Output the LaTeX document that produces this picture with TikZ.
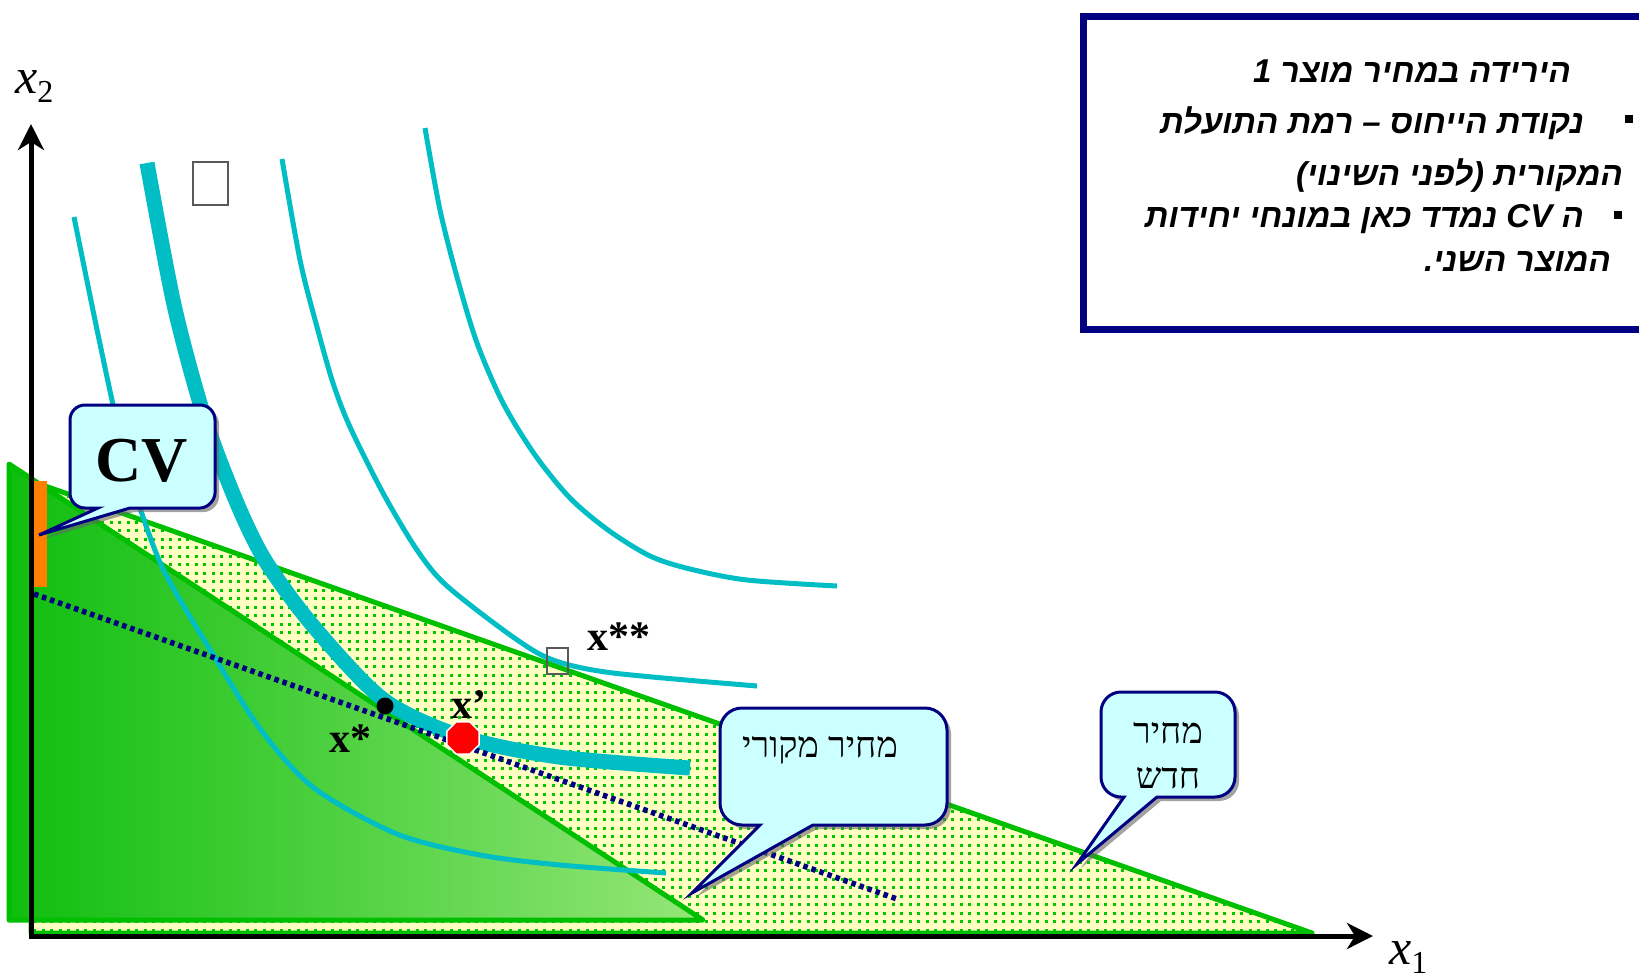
\documentclass[tikz,border=0pt]{standalone}
\usepackage{fontspec}
\setmainfont{Liberation Serif}
\newfontfamily\hebsans[Script=Hebrew]{Liberation Sans}
\newfontfamily\hebserif[Script=Hebrew]{Liberation Serif}
\TeXXeTstate=1
\usetikzlibrary{arrows.meta,shapes.geometric,shadows}
\definecolor{cyanc}{RGB}{0,190,196}
\definecolor{navyc}{RGB}{0,0,128}
\definecolor{budgetg}{RGB}{0,190,0}
\definecolor{dkA}{RGB}{15,190,15}
\definecolor{dkM}{RGB}{85,212,70}
\definecolor{dkB}{RGB}{150,230,120}
\definecolor{yellowf}{RGB}{255,255,196}
\definecolor{dotg}{RGB}{0,200,0}
\definecolor{calloutf}{RGB}{204,255,255}
\definecolor{orangec}{RGB}{255,128,0}
\begin{document}
\begin{tikzpicture}[x=1pt,y=-1pt,
  budget/.style={draw=budgetg, line width=5pt, line join=round},
  dotcol/.style={draw=dotg, line width=3.2pt, dash pattern=on 3.2pt off 5.3pt},
  icthin/.style={draw=cyanc, line width=5pt},
  icthick/.style={draw=cyanc, line width=15pt},
  compline/.style={draw=navyc, line width=5.5pt, dash pattern=on 4.5pt off 4pt},
  axis/.style={draw=black, line width=5pt, -{Stealth[length=26pt,width=26pt,inset=8pt]}},
  callout/.style={fill=calloutf, draw=navyc, line width=3pt, line join=miter,
     drop shadow={shadow xshift=4pt, shadow yshift=-4pt, fill=black!60, opacity=0.6}},
  hebcall/.style={font=\hebserif\fontsize{36}{44}\selectfont, align=center, inner sep=0pt},
  infotext/.style={font=\hebsans\bfseries\itshape\fontsize{33}{40}\selectfont, inner sep=0pt},
  ptlabel/.style={font=\bfseries\fontsize{42}{42}\selectfont, inner sep=0pt},
  bulletsq/.style={fill=black, minimum size=8pt, inner sep=0pt},
  tofu/.style={draw=black!65, line width=1.3pt}
]
\useasboundingbox (0,0) rectangle (1639,980);

% ---- budget sets ----
\coordinate (B0) at (31,481);
\coordinate (Bnew) at (1312,933);
\coordinate (Bcorner) at (31,933);
\fill[yellowf] (B0) -- (Bnew) -- (Bcorner) -- cycle;
\begin{scope}
  \clip (B0) -- (Bnew) -- (Bcorner) -- cycle;
  \foreach \i in {0,...,151} { \draw[dotcol] ({34.6+8.5*\i},478) -- ({34.6+8.5*\i},936); }
\end{scope}
\draw[budget] (B0) -- (Bnew) -- (Bcorner) -- cycle;

\coordinate (O0) at (9,464);
\coordinate (Oend) at (703,920);
\coordinate (Ocorner) at (9,920);
\shade[left color=dkA, middle color=dkM, right color=dkB] (O0) -- (Oend) -- (Ocorner) -- cycle;
\draw[budget] (O0) -- (Oend) -- (Ocorner) -- cycle;

% CV bar
\fill[orangec] (33,481) rectangle (47,587);

% ---- indifference curves ----
\draw[icthin] plot[smooth, tension=0.5] coordinates {(74,217) (95,320) (112,400) (128,468) (143,517) (165,573) (209,648) (261,730) (314,788) (397,834) (480,855) (560,865) (666,873)};
\draw[icthick] plot[smooth, tension=0.5] coordinates {(147,163) (173,300) (197,393) (217,453) (243,517) (268,565) (314,627) (384,700) (463,737) (559,757) (690,768)};
\draw[icthin] plot[smooth, tension=0.5] coordinates {(282,159) (300,260) (317,327) (333,383) (350,427) (383,493) (417,550) (447,586) (513,637) (553,660) (613,673) (757,686)};
\draw[icthin] plot[smooth, tension=0.5] coordinates {(425,128) (440,210) (457,277) (477,343) (503,403) (535,455) (570,498) (608,530) (650,556) (690,569) (747,580) (837,586)};

% compensated budget line
\coordinate (C0) at (34,594);
\coordinate (C1) at (897,899);
\draw[compline] (C0) -- (C1);

% points
\fill[black] (385,706) circle (8.5pt);
\node[regular polygon, regular polygon sides=8, minimum size=35pt, fill=red, draw=white, line width=1.5pt, inner sep=0pt] (xprime) at (463,738) {};

% axes
\coordinate (orig) at (31,936);
\coordinate (ytip) at (31,124);
\coordinate (xtip) at (1373,936);
\draw[axis] (orig) -- (ytip);
\draw[axis] ([xshift=-2.5pt]orig) -- (xtip);

\node[anchor=base west, inner sep=0pt] (lx2) at (15,93) {\fontsize{50}{50}\selectfont\itshape x\raisebox{-9pt}{\fontsize{32}{32}\selectfont\upshape 2}};
\node[anchor=base west, inner sep=0pt] (lx1) at (1389,964) {\fontsize{50}{50}\selectfont\itshape x\raisebox{-9pt}{\fontsize{32}{32}\selectfont\upshape 1}};

% labels of points
\node[ptlabel, anchor=base west] (lxs) at (329,752) {x*};
\node[ptlabel, anchor=base west] (lxp) at (451,718) {x’};
\node[ptlabel, anchor=base west] (lxss) at (587,650) {x**};

% empty glyph boxes
\draw[tofu] (193,162) rectangle (228,205);
\draw[tofu] (547,648) rectangle (568,674);

% ---- callouts ----
\path[callout] (39,535) -- (130,508) -- (200,508) .. controls (208.3,508) and (215,499.7) .. (215,493) -- (215,420) .. controls (215,411.7) and (208.3,405) .. (200,405) -- (85,405) .. controls (76.7,405) and (70,411.7) .. (70,420) -- (70,493) .. controls (70,501.3) and (76.7,508) .. (85,508) -- (98,508) -- cycle;
\node[inner sep=0pt] (cvtext) at (142,461) {\fontsize{64}{64}\selectfont\bfseries CV};

\path[callout] (692,893) -- (813,825) -- (925,825) .. controls (937.1,825) and (947,815.1) .. (947,803) -- (947,730) .. controls (947,717.9) and (937.1,708) .. (925,708) -- (742,708) .. controls (729.9,708) and (720,717.9) .. (720,730) -- (720,803) .. controls (720,815.1) and (729.9,825) .. (742,825) -- (760,825) -- cycle;
\node[hebcall] (origprice) at (820,750) {\beginR מחיר מקורי\endR};

\path[callout] (1077,864) -- (1157,797) -- (1215,797) .. controls (1226,797) and (1235,788) .. (1235,777) -- (1235,712) .. controls (1235,701) and (1226,692) .. (1215,692) -- (1121,692) .. controls (1110,692) and (1101,701) .. (1101,712) -- (1101,777) .. controls (1101,788) and (1110,797) .. (1121,797) -- (1124,797) -- cycle;
\node[hebcall] (newprice1) at (1168,733) {\beginR מחיר\endR};
\node[hebcall] (newprice2) at (1168,778) {\beginR חדש\endR};

% ---- info box ----
\node[draw=navyc, fill=white, line width=7pt, minimum width=585pt, minimum height=313pt, anchor=north west, inner sep=0pt] (infobox) at (1080,13) {};
\node[infotext, anchor=east] (t1) at (1571,71) {\beginR הירידה במחיר מוצר 1\endR};
\node[bulletsq] (b1) at (1629,119) {};
\node[infotext, anchor=east] (t2) at (1584,123) {\beginR נקודת הייחוס – רמת התועלת\endR};
\node[infotext, anchor=east] (t3) at (1623,176) {\beginR המקורית (לפני השינוי)\endR};
\node[bulletsq] (b2) at (1618,215) {};
\node[infotext, anchor=east] (t4) at (1584,219) {\beginR ה \beginL CV\endL{} נמדד כאן במונחי יחידות\endR};
\node[infotext, anchor=east] (t5) at (1611,262) {\beginR המוצר השני.\endR};
\end{tikzpicture}
\end{document}
